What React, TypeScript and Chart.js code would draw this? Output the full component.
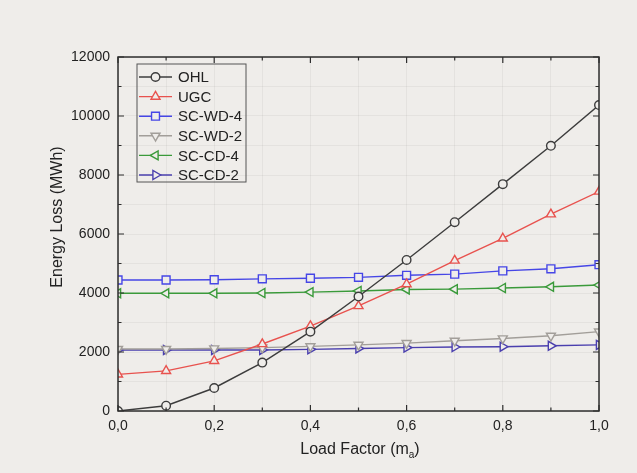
import React, { useEffect, useRef } from 'react';
import { Chart, registerables } from 'chart.js';

Chart.register(...registerables);

const loadFactor = [0, 0.1, 0.2, 0.3, 0.4, 0.5, 0.6, 0.7, 0.8, 0.9, 1.0];
const seriesNames = ['OHL', 'UGC', 'SC-WD-4', 'SC-WD-2', 'SC-CD-4', 'SC-CD-2'];
const ohl = [0, 180, 780, 1640, 2690, 3880, 5120, 6400, 7690, 8990, 10370];
const ugc = [1240, 1360, 1700, 2270, 2880, 3560, 4300, 5100, 5850, 6670, 7440];
const scWd4 = [4440, 4440, 4450, 4480, 4500, 4530, 4600, 4640, 4750, 4820, 4960];
const scWd2 = [2100, 2100, 2120, 2150, 2190, 2240, 2300, 2380, 2460, 2550, 2690];
const scCd4 = [3990, 3990, 3990, 4000, 4030, 4070, 4120, 4130, 4170, 4210, 4270];
const scCd2 = [2070, 2070, 2070, 2070, 2090, 2120, 2150, 2170, 2180, 2210, 2240];
const xTickLabels = ['0,0', '0,2', '0,4', '0,6', '0,8', '1,0'];
const yTickLabels = ['0', '2000', '4000', '6000', '8000', '10000', '12000'];

const BG = '#efedea';
const FONT = '"Liberation Sans", Arial, Helvetica, sans-serif';

const styles = [
  { color: '#3c3c3c', shape: 'circle', rot: 0, r: 4.3 },
  { color: '#e8524e', shape: 'triangle', rot: 0, r: 5.2 },
  { color: '#4646e6', shape: 'rect', rot: 0, r: 5.6 },
  { color: '#a29e99', shape: 'triangle', rot: 180, r: 5.2 },
  { color: '#3a9a3a', shape: 'triangle', rot: 270, r: 5.2 },
  { color: '#4a3fae', shape: 'triangle', rot: 90, r: 5.2 },
];

function drawMarker(ctx: CanvasRenderingContext2D, shape: string, rotDeg: number, r: number, x: number, y: number) {
  ctx.beginPath();
  if (shape === 'circle') {
    ctx.arc(x, y, r, 0, Math.PI * 2);
  } else if (shape === 'rect') {
    const s = Math.SQRT1_2 * r;
    ctx.rect(x - s, y - s, 2 * s, 2 * s);
  } else {
    let rad = (rotDeg * Math.PI) / 180;
    const t = (2 * Math.PI) / 3;
    ctx.moveTo(x + Math.sin(rad) * r, y - Math.cos(rad) * r);
    rad += t;
    ctx.lineTo(x + Math.sin(rad) * r, y - Math.cos(rad) * r);
    rad += t;
    ctx.lineTo(x + Math.sin(rad) * r, y - Math.cos(rad) * r);
    ctx.closePath();
  }
  ctx.fillStyle = BG;
  ctx.fill();
  ctx.stroke();
}

const decor = {
  id: 'decor',
  beforeDraw(chart: any) {
    const ctx = chart.ctx;
    ctx.save();
    ctx.fillStyle = BG;
    ctx.fillRect(0, 0, chart.width, chart.height);
    ctx.restore();
  },
  afterDraw(chart: any) {
    const ctx: CanvasRenderingContext2D = chart.ctx;
    const a = chart.chartArea;
    const xs = chart.scales.x;
    const ys = chart.scales.y;
    ctx.save();
    // frame
    ctx.strokeStyle = '#2e2e2e';
    ctx.lineWidth = 1.5;
    ctx.strokeRect(a.left, a.top, a.right - a.left, a.bottom - a.top);
    // ticks inward
    ctx.lineWidth = 1.2;
    ctx.beginPath();
    for (let i = 0; i <= 10; i++) {
      const px = xs.getPixelForValue(i / 10);
      const len = i % 2 === 0 ? 6 : 3.5;
      ctx.moveTo(px, a.bottom); ctx.lineTo(px, a.bottom - len);
      ctx.moveTo(px, a.top); ctx.lineTo(px, a.top + len);
    }
    for (let i = 0; i <= 12; i++) {
      const py = ys.getPixelForValue(i * 1000);
      const len = i % 2 === 0 ? 6 : 3.5;
      ctx.moveTo(a.left, py); ctx.lineTo(a.left + len, py);
      ctx.moveTo(a.right, py); ctx.lineTo(a.right - len, py);
    }
    ctx.stroke();

    // axis titles
    ctx.fillStyle = '#222';
    ctx.textBaseline = 'middle';
    ctx.font = `16px ${FONT}`;
    ctx.save();
    ctx.translate(58, 217);
    ctx.rotate(-Math.PI / 2);
    ctx.textAlign = 'center';
    ctx.fillText('Energy Loss (MWh)', 0, 0);
    ctx.restore();

    const p1 = 'Load Factor (m';
    const p3 = ')';
    ctx.font = `16px ${FONT}`;
    const w1 = ctx.measureText(p1).width;
    const w3 = ctx.measureText(p3).width;
    ctx.font = `10px ${FONT}`;
    const w2 = ctx.measureText('a').width;
    const total = w1 + w2 + w3;
    const x0 = 360 - total / 2;
    const yT = 450;
    ctx.textAlign = 'left';
    ctx.font = `16px ${FONT}`;
    ctx.fillText(p1, x0, yT);
    ctx.font = `10px ${FONT}`;
    ctx.fillText('a', x0 + w1, yT + 5);
    ctx.font = `16px ${FONT}`;
    ctx.fillText(p3, x0 + w1 + w2, yT);

    // legend
    const lx = 137, ly = 64, lw = 109, lh = 118;
    ctx.strokeStyle = '#555';
    ctx.lineWidth = 1;
    ctx.strokeRect(lx, ly, lw, lh);
    ctx.font = `15px ${FONT}`;
    ctx.textBaseline = 'middle';
    seriesNames.forEach((name, i) => {
      const st = styles[i];
      const y = 77 + i * 19.6;
      ctx.strokeStyle = st.color;
      ctx.lineWidth = 1.4;
      ctx.beginPath();
      ctx.moveTo(139, y); ctx.lineTo(172, y);
      ctx.stroke();
      drawMarker(ctx, st.shape, st.rot, st.r, 155.5, y);
      ctx.fillStyle = '#222';
      ctx.fillText(name, 178, y + 1);
    });
    ctx.restore();
  },
};

const seriesValues = [ohl, ugc, scWd4, scWd2, scCd4, scCd2];

export default function App() {
  const ref = useRef<HTMLCanvasElement>(null);
  useEffect(() => {
    document.body.style.margin = '0';
    document.body.style.background = BG;
    const datasets = seriesNames.map((name, i) => ({
      label: name,
      data: loadFactor.map((x, j) => ({ x, y: seriesValues[i][j] })),
      borderColor: styles[i].color,
      backgroundColor: BG,
      pointBackgroundColor: BG,
      pointBorderColor: styles[i].color,
      pointStyle: styles[i].shape,
      pointRotation: styles[i].rot,
      pointRadius: styles[i].r,
      pointBorderWidth: 1.4,
      borderWidth: 1.4,
      tension: 0,
      fill: false,
      clip: 0,
    }));
    const chart = new Chart(ref.current!, {
      type: 'line',
      data: { datasets },
      options: {
        animation: false,
        responsive: false,
        devicePixelRatio: 1,
        layout: { padding: { left: 0, top: 57, right: 38, bottom: 0 } },
        plugins: { legend: { display: false }, tooltip: { enabled: false } },
        scales: {
          x: {
            type: 'linear',
            min: 0,
            max: 1,
            afterFit: (s: any) => { s.height = 62; },
            ticks: {
              stepSize: 0.1,
              autoSkip: false,
              maxRotation: 0,
              padding: 7,
              color: '#222',
              font: { family: FONT, size: 14 },
              callback: (v: any) => {
                const k = Math.round(Number(v) * 10);
                return k % 2 === 0 ? xTickLabels[k / 2] : '';
              },
            },
            grid: { color: 'rgba(0,0,0,0.045)', drawTicks: false },
            border: { display: false },
          },
          y: {
            type: 'linear',
            min: 0,
            max: 12000,
            afterFit: (s: any) => { s.width = 118; },
            ticks: {
              stepSize: 1000,
              autoSkip: false,
              padding: 8,
              color: '#222',
              font: { family: FONT, size: 14 },
              callback: (v: any) => {
                const k = Math.round(Number(v) / 1000);
                return k % 2 === 0 ? yTickLabels[k / 2] : '';
              },
            },
            grid: { color: 'rgba(0,0,0,0.045)', drawTicks: false },
            border: { display: false },
          },
        },
      },
      plugins: [decor],
    });
    return () => chart.destroy();
  }, []);
  return <canvas ref={ref} width={637} height={473} style={{ display: 'block' }} />;
}
